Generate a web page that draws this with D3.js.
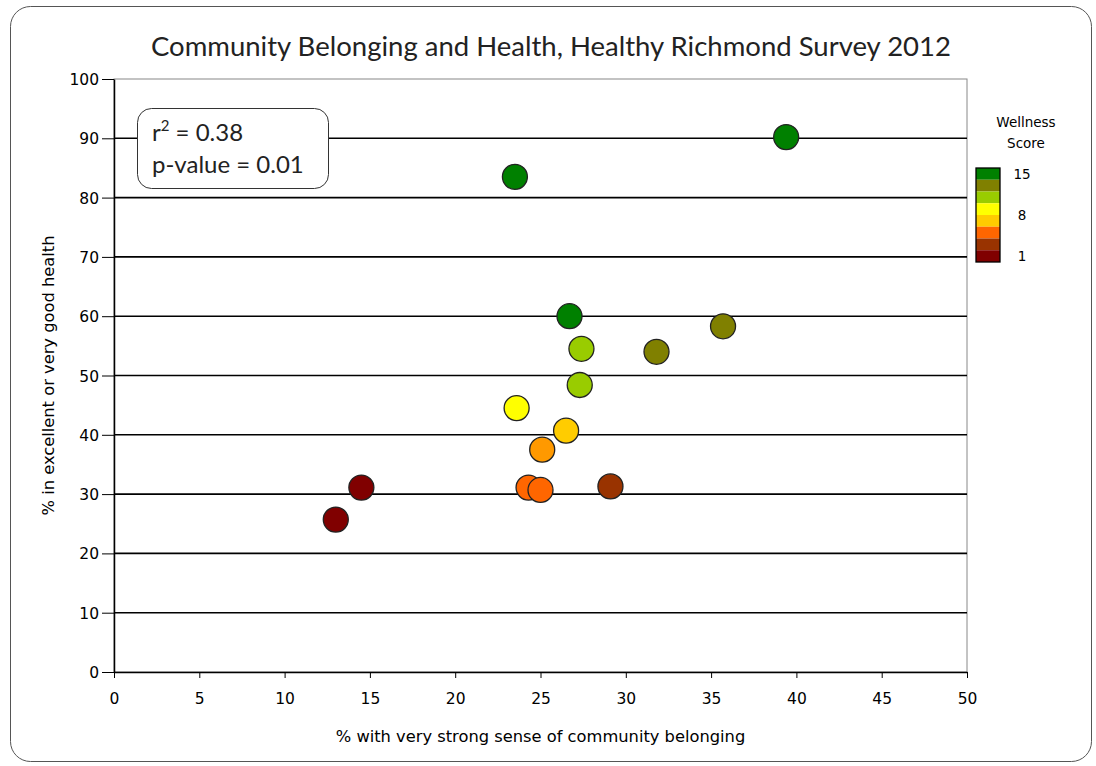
<!DOCTYPE html>
<html lang="en">
<head>
    <meta charset="UTF-8">
    <title>Community Belonging and Health</title>
    <script src="https://d3js.org/d3.v7.min.js"></script>
    <style>
        body { margin: 0; padding: 0; background: #fff; }
        svg { display: block; }
        .tick text { font-family: "DejaVu Sans", sans-serif; font-size: 15.5px; fill: #000; }
    </style>
</head>
<body>
<div id="chart"></div>
<script>
    // Data
    const belonging = [39.4, 23.5, 26.7, 35.7, 31.8, 27.4, 27.3, 23.6, 26.5, 25.1, 24.3, 25.0, 29.1, 14.5, 13.0];
    const health    = [90.2, 83.5, 60.0, 58.3, 54.0, 54.5, 48.4, 44.5, 40.7, 37.5, 31.1, 30.7, 31.3, 31.1, 25.7];
    const wellness  = [15, 15, 14, 13, 13, 11, 11, 8, 7, 6, 5, 5, 3, 1, 1];

    const xTicks = [0, 5, 10, 15, 20, 25, 30, 35, 40, 45, 50];
    const yTicks = [0, 10, 20, 30, 40, 50, 60, 70, 80, 90, 100];

    // Legend bands, top to bottom, and its labels
    const legendScores = [15, 13, 11, 9, 7, 5, 3, 1];
    const legendLabels = [{ text: '15', band: 0 }, { text: '8', band: 3.5 }, { text: '1', band: 7 }];

    const title = 'Community Belonging and Health, Healthy Richmond Survey 2012';
    const xLabel = '% with very strong sense of community belonging';
    const yLabel = '% in excellent or very good health';

    const width = 1096, height = 766;
    const margin = { top: 79, right: 129, bottom: 94, left: 114 };

    const colour = d3.scaleThreshold()
        .domain([2, 4, 5, 6, 7, 8, 10, 12, 14])
        .range(['#800000', '#993300', '#ff6600', '#ff6600', '#ff9900', '#ffcc00', '#ffff00', '#99cc00', '#808000', '#008000']);
    const legendColour = d3.scaleThreshold()
        .domain([2, 4, 6, 8, 10, 12, 14])
        .range(['#800000', '#993300', '#ff6600', '#ffcc00', '#ffff00', '#99cc00', '#808000', '#008000']);

    const svg = d3.select('#chart').append('svg')
        .attr('width', width)
        .attr('height', height);

    // outer rounded frame
    svg.append('rect')
        .attr('x', 10.5).attr('y', 6.5)
        .attr('width', 1081).attr('height', 755)
        .attr('rx', 20).attr('ry', 20)
        .attr('fill', '#fff')
        .attr('stroke', '#555')
        .attr('stroke-width', 1);

    const x = d3.scaleLinear().domain([0, 50]).range([margin.left, width - margin.right]);
    const y = d3.scaleLinear().domain([0, 100]).range([height - margin.bottom, margin.top]);

    // plot area border (top and right are grey)
    svg.append('rect')
        .attr('x', x(0)).attr('y', y(100))
        .attr('width', x(50) - x(0)).attr('height', y(0) - y(100))
        .attr('fill', 'none')
        .attr('stroke', '#888')
        .attr('stroke-width', 1);

    // horizontal gridlines
    svg.append('g')
        .selectAll('line')
        .data(yTicks.filter(d => d > 0 && d < 100))
        .join('line')
        .attr('x1', x(0)).attr('x2', x(50))
        .attr('y1', d => y(d)).attr('y2', d => y(d))
        .attr('stroke', '#000')
        .attr('stroke-width', 1.6);

    // axes
    const xAxis = svg.append('g')
        .attr('transform', `translate(0,${y(0)})`)
        .call(d3.axisBottom(x).tickValues(xTicks).tickSize(6).tickSizeOuter(0).tickPadding(15));
    const yAxis = svg.append('g')
        .attr('transform', `translate(${x(0)},0)`)
        .call(d3.axisLeft(y).tickValues(yTicks).tickSize(12).tickSizeOuter(0).tickPadding(3));
    [xAxis, yAxis].forEach(a => {
        a.select('.domain').attr('stroke', '#000').attr('stroke-width', 1.5);
        a.selectAll('.tick line').attr('stroke', '#000');
    });
    yAxis.selectAll('.tick text').attr('dy', '0.36em');

    // points
    const points = belonging.map((b, i) => ({ x: b, y: health[i], score: wellness[i] }));
    svg.append('g')
        .selectAll('circle')
        .data(points)
        .join('circle')
        .attr('cx', d => x(d.x))
        .attr('cy', d => y(d.y))
        .attr('r', 12.5)
        .attr('fill', d => colour(d.score))
        .attr('stroke', '#222')
        .attr('stroke-width', 1.3);

    // title
    svg.append('text')
        .attr('x', 551).attr('y', 56)
        .attr('text-anchor', 'middle')
        .attr('font-family', 'Lato, sans-serif')
        .attr('font-size', 27.5)
        .attr('fill', '#222')
        .text(title);

    // axis labels
    svg.append('text')
        .attr('x', (x(0) + x(50)) / 2).attr('y', 742)
        .attr('text-anchor', 'middle')
        .attr('font-family', '"DejaVu Sans", sans-serif')
        .attr('font-size', 16.3)
        .text(xLabel);
    svg.append('text')
        .attr('transform', `translate(54,${(y(0) + y(100)) / 2}) rotate(-90)`)
        .attr('text-anchor', 'middle')
        .attr('font-family', '"DejaVu Sans", sans-serif')
        .attr('font-size', 16.3)
        .text(yLabel);

    // r2 / p-value box
    const note = svg.append('g');
    note.append('rect')
        .attr('x', 137.5).attr('y', 108.5)
        .attr('width', 191).attr('height', 80)
        .attr('rx', 14).attr('ry', 14)
        .attr('fill', '#fff')
        .attr('stroke', '#333');
    const r2 = note.append('text')
        .attr('x', 152).attr('y', 141)
        .attr('font-family', 'Lato, sans-serif')
        .attr('font-size', 24)
        .attr('fill', '#222');
    r2.append('tspan').text('r');
    r2.append('tspan').attr('font-size', 15).attr('dy', -10).text('2');
    r2.append('tspan').attr('dy', 10).text(' = 0.38');
    note.append('text')
        .attr('x', 152).attr('y', 173)
        .attr('font-family', 'Lato, sans-serif')
        .attr('font-size', 24)
        .attr('fill', '#222')
        .text('p-value = 0.01');

    // legend
    const legend = svg.append('g');
    legend.append('text')
        .attr('x', 1026).attr('y', 127)
        .attr('text-anchor', 'middle')
        .attr('font-family', '"DejaVu Sans", sans-serif')
        .attr('font-size', 13.5)
        .text('Wellness');
    legend.append('text')
        .attr('x', 1026).attr('y', 148)
        .attr('text-anchor', 'middle')
        .attr('font-family', '"DejaVu Sans", sans-serif')
        .attr('font-size', 13.5)
        .text('Score');

    const band = d3.scaleBand().domain(d3.range(legendScores.length)).range([168, 262]);
    legend.selectAll('rect.band')
        .data(legendScores)
        .join('rect')
        .attr('class', 'band')
        .attr('x', 976).attr('y', (d, i) => band(i))
        .attr('width', 24).attr('height', band.bandwidth())
        .attr('fill', d => legendColour(d));
    legend.append('rect')
        .attr('x', 976).attr('y', 168)
        .attr('width', 24).attr('height', 94)
        .attr('fill', 'none')
        .attr('stroke', '#000')
        .attr('stroke-width', 1.3);
    legend.selectAll('text.lab')
        .data(legendLabels)
        .join('text')
        .attr('class', 'lab')
        .attr('x', 1022)
        .attr('y', d => band(0) + (d.band + 0.5) * band.step())
        .attr('dy', '0.36em')
        .attr('text-anchor', 'middle')
        .attr('font-family', '"DejaVu Sans", sans-serif')
        .attr('font-size', 13.5)
        .text(d => d.text);
</script>
</body>
</html>
